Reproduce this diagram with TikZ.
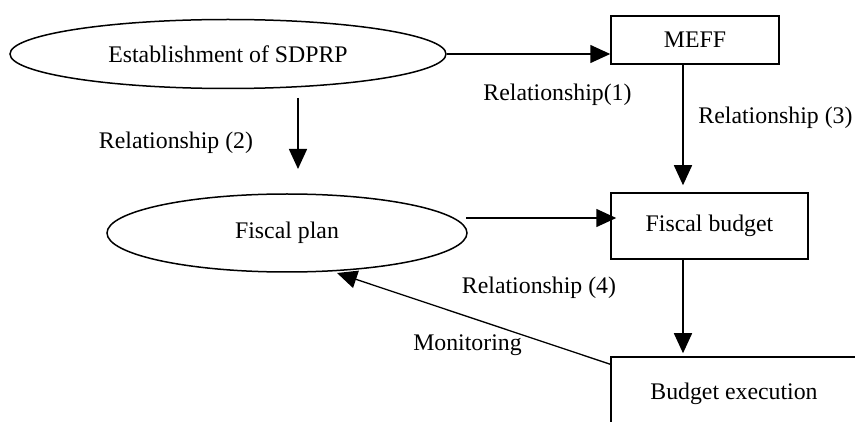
\documentclass[tikz,border=0pt]{standalone}
\usepackage{fontspec}
\setmainfont{Liberation Serif}
\usetikzlibrary{shapes.geometric,arrows.meta,calc}
\begin{document}
\begin{tikzpicture}[x=1pt,y=-1pt,
  every node/.style={font=\fontsize{23.8}{28}\selectfont, inner sep=0pt},
  oval/.style={draw, ellipse, line width=1.5pt},
  box/.style={draw, rectangle, line width=1.5pt},
  link/.style={line width=1.5pt, -{Triangle[length=20pt,width=18pt]}},
  thinlink/.style={line width=1.3pt, -{Triangle[length=20pt,width=18pt]}},
  lbl/.style={anchor=center}]
  \useasboundingbox (0,0) rectangle (855,422);
  \clip (0,0) rectangle (855,422);

  % nodes
  \node[oval, minimum width=436pt, minimum height=69pt] (est) at (228,54) {Establishment of SDPRP};
  \node[box, minimum width=168pt, minimum height=48pt] (meff) at (695,40) {MEFF};
  \node[oval, minimum width=360pt, minimum height=78pt] (plan) at (287,233) {Fiscal plan};
  \node[box, minimum width=197pt, minimum height=66pt] (budget) at (709.5,226) {Fiscal budget};
  \node[box, minimum width=246pt, minimum height=74pt] (exec) at (734,394) {Budget execution};

  % connector end points
  \coordinate (estR) at (447,54);
  \coordinate (meffIn) at (meff.west |- estR);
  \coordinate (meffOut) at ($(meff.south)+(-12,0)$);
  \coordinate (r2top) at (298,98);
  \coordinate (r2tip) at (298,169);
  \coordinate (planR) at (466,218);
  \coordinate (budgetIn) at ($(budget.west |- planR)+(6,0)$);
  \coordinate (budgetOut) at ($(budget.south)+(-26.5,0)$);
  \coordinate (execIn) at ($(budgetOut |- exec.north)+(0,-3)$);
  \coordinate (execL) at ($(exec.north west)+(0,8)$);
  \coordinate (planB) at (337,273);

  % connectors
  \draw[link] (estR) -- (meffIn);
  \draw[link] (meffOut) -- ($(meffOut |- budget.north)+(0,-7)$);
  \draw[link] (r2top) -- (r2tip);
  \draw[link] (planR) -- (budgetIn);
  \draw[link] (budgetOut) -- (execIn);
  \draw[thinlink] (execL) -- (planB);

  % labels
  \node[lbl] (l1) at (557.5,95) {Relationship(1)};
  \node[lbl] (l3) at (775.5,118) {Relationship (3)};
  \node[lbl] (l2) at (176,143) {Relationship (2)};
  \node[lbl] (l4) at (539,288) {Relationship (4)};
  \node[lbl] (mon) at (467.5,345) {Monitoring};
\end{tikzpicture}
\end{document}
